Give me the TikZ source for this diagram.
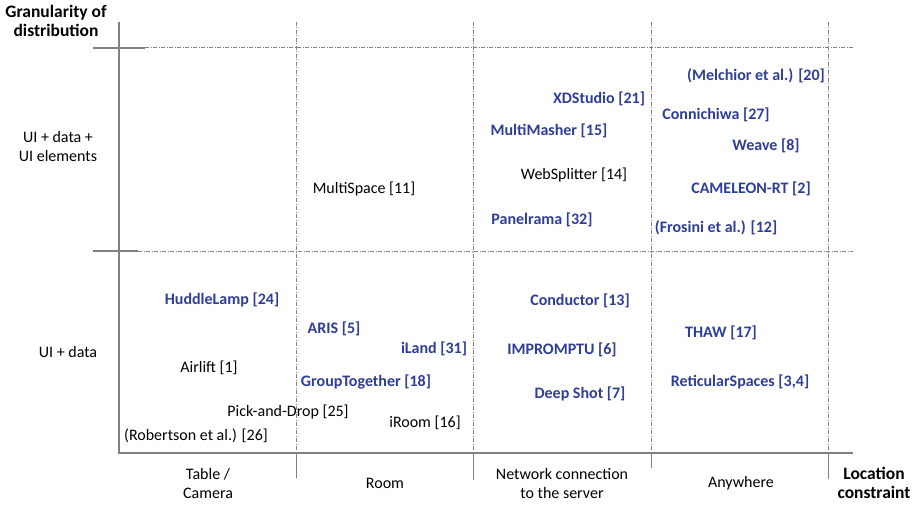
\documentclass[tikz,border=0pt]{standalone}
\usepackage{fontspec}
\setmainfont{Carlito}
\definecolor{refblue}{RGB}{46,62,152}
\definecolor{axisgray}{RGB}{128,128,128}
\definecolor{gridgray}{RGB}{130,130,130}
\begin{document}
\begin{tikzpicture}[x=1pt,y=-1pt,
  lbl/.style={inner sep=0pt,font=\fontsize{16}{19}\selectfont,align=center},
  sys/.style={lbl,text=black},
  sysnew/.style={lbl,text=refblue,font=\fontsize{16}{19}\selectfont\bfseries},
  title/.style={lbl,font=\fontsize{17.5}{19.5}\selectfont\bfseries},
  axisline/.style={draw=axisgray,line width=1.3pt},
  gridline/.style={draw=gridgray,line width=1pt,dash pattern=on 4pt off 1.5pt on 1pt off 1.5pt}]
\useasboundingbox (0,0) rectangle (923,505);

% grid separators
\foreach \x in {296,473,651,828} \draw[gridline] (\x,22) -- (\x,453);
\draw[gridline] (145,48) -- (853,48);
\draw[gridline] (138,251) -- (853,251);
\draw[axisline] (93,48) -- (145,48);
\draw[axisline] (93,251) -- (138,251);

% column ticks below the axis
\draw[axisline,line width=1pt] (296,453) -- (296,478);
\draw[axisline,line width=1pt] (473,453) -- (473,480);
\draw[axisline,line width=1pt] (651,453) -- (651,468);
\draw[axisline,line width=1pt] (828,453) -- (828,479);

% axes
\draw[axisline] (119,22) -- (119,453) -- (853,453);

% axis titles
\node[title] (ytitle) at (56,21) {Granularity of\\distribution};
\node[title] (xtitle) at (874,483) {Location\\constraint};

% row labels
\node[sys] (rowA) at (58,147) {UI + data +\\UI elements};
\node[sys] (rowB) at (68,352) {UI + data};

% column labels
\node[sys] (colA) at (208,483) {Table /\\Camera};
\node[sys] (colB) at (385,483) {Room};
\node[sys] (colC) at (562,483) {Network connection\\to the server};
\node[sys] (colD) at (741,483) {Anywhere};

% upper row
\node[sys] (multispace) at (364,189) {MultiSpace [11]};
\node[sysnew] (xdstudio) at (599,99) {XDStudio [21]};
\node[sysnew] (melchior) at (756,76) {(Melchior et al.) [20]};
\node[sysnew] (connichiwa) at (716,115) {Connichiwa [27]};
\node[sysnew] (multimasher) at (549,131) {MultiMasher [15]};
\node[sysnew] (weave) at (766,146) {Weave [8]};
\node[sys] (websplitter) at (574,175) {WebSplitter [14]};
\node[sysnew] (cameleon) at (751,189) {CAMELEON-RT [2]};
\node[sysnew] (panelrama) at (542,220) {Panelrama [32]};
\node[sysnew] (frosini) at (716,228) {(Frosini et al.) [12]};

% lower row
\node[sysnew] (huddlelamp) at (222,300) {HuddleLamp [24]};
\node[sysnew] (conductor) at (580,301) {Conductor [13]};
\node[sysnew] (aris) at (334,329) {ARIS [5]};
\node[sysnew] (thaw) at (721,333) {THAW [17]};
\node[sysnew] (iland) at (434,349) {iLand [31]};
\node[sysnew] (impromptu) at (562,350) {IMPROMPTU [6]};
\node[sys] (airlift) at (209,368) {Airlift [1]};
\node[sysnew] (grouptogether) at (366,382) {GroupTogether [18]};
\node[sysnew] (reticular) at (740,382) {ReticularSpaces [3,4]};
\node[sysnew] (deepshot) at (580,394) {Deep Shot [7]};
\node[sys] (pickdrop) at (288,412) {Pick-and-Drop [25]};
\node[sys] (iroom) at (425,423) {iRoom [16]};
\node[sys] (robertson) at (196,436) {(Robertson et al.) [26]};
\end{tikzpicture}
\end{document}
